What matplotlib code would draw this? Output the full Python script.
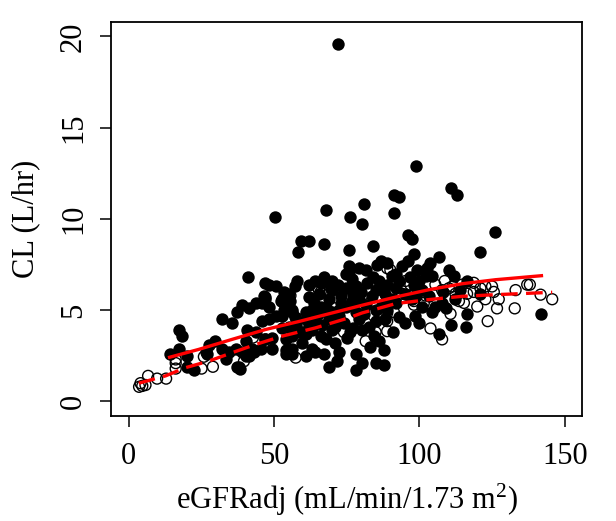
import matplotlib
matplotlib.use("Agg")
from matplotlib import pyplot as plt

# filled points (one group)
x_filled = [71.9, 98.8, 110.7, 113.0, 91.2, 92.9, 80.9, 68.0, 50.2, 76.0,
            80.1, 91.2, 125.9, 96.1, 97.5, 59.1, 61.9, 67.1, 58.2, 75.9,
            84.0, 98.3, 86.6, 88.9, 85.4, 75.7, 75.7, 79.1, 81.5, 67.1,
            48.2, 50.5, 91.8, 90.6, 96.9, 98.1, 76.9, 78.0, 75.7, 69.4,
            46.8, 52.8, 55.6, 53.3, 56.2, 48.2, 61.9, 63.7, 66.0, 63.1,
            68.2, 72.3, 74.6, 76.9, 79.1, 81.5, 84.9, 83.7, 87.2, 88.3,
            90.6, 91.8, 95.2, 97.5, 98.7, 45.9, 48.2, 50.5, 55.1, 57.4,
            52.8, 60.8, 64.2, 66.5, 63.1, 59.6, 68.8, 72.3, 71.1, 79.1,
            80.3, 82.6, 84.3, 88.3, 53.9, 56.2, 60.8, 67.1, 72.3, 68.8,
            71.7, 78.0, 78.0, 80.3, 84.9, 87.7, 87.7, 59.6, 63.1, 67.7,
            71.1, 45.3, 17.2, 18.1, 14.1, 17.2, 20.1, 20.1, 22.4, 26.9,
            32.1, 35.5, 37.3, 39.0, 41.3, 41.1, 29.8, 32.1, 34.4, 33.3,
            37.3, 38.4, 36.7, 39.0, 41.3, 42.4, 40.2, 40.7, 43.6, 45.9,
            46.4, 47.0, 27.5, 26.4, 121.0, 106.9, 103.8, 102.7, 102.1, 104.4,
            110.1, 100.9, 103.2, 105.5, 107.8, 100.9, 98.6, 99.8, 104.4, 116.4,
            121.0, 112.4, 116.4, 110.7, 116.2, 106.9, 142.0, 47.0, 43.6, 37.9,
            40.2, 43.0, 47.0, 49.3, 53.9, 56.2, 58.5, 60.8, 49.3, 53.9,
            56.2, 64.2, 52.8, 56.2, 60.8, 67.7, 70.0, 52.2, 53.3, 65.4,
            70.0, 74.6, 74.6, 55.1, 57.0, 58.0, 62.0, 64.0, 66.0, 70.0,
            72.0, 73.0, 77.0, 80.0, 82.0, 84.0, 86.0, 89.0, 92.0, 93.0,
            94.0, 96.0, 85.0, 87.0, 89.0, 93.0, 95.0, 91.0, 86.0, 83.0,
            76.0, 74.0, 78.0, 62.0, 57.0, 66.0, 70.0, 75.0, 100.0, 99.0,
            108.0, 109.0, 112.0, 114.0, 65.0, 69.0, 73.0, 77.0, 81.0, 85.0]
y_filled = [19.6, 12.9, 11.7, 11.3, 11.3, 11.2, 10.8, 10.5, 10.1, 10.1,
            9.7, 10.3, 9.3, 9.1, 8.9, 8.8, 8.8, 8.6, 8.2, 8.3,
            8.5, 8.1, 7.7, 7.6, 7.5, 7.4, 7.1, 7.3, 7.2, 6.8,
            6.4, 6.3, 7.0, 6.9, 6.8, 6.4, 6.7, 6.3, 6.2, 6.2,
            5.7, 5.6, 5.5, 5.0, 5.0, 5.2, 5.7, 5.4, 5.2, 5.0,
            5.0, 5.0, 5.2, 5.5, 5.6, 5.3, 6.1, 5.8, 6.2, 5.9,
            5.6, 5.4, 5.9, 5.6, 5.8, 4.4, 4.5, 4.7, 4.1, 4.2,
            4.0, 4.5, 4.4, 4.2, 3.9, 3.8, 4.5, 4.7, 4.1, 4.5,
            3.9, 4.1, 3.6, 4.5, 2.8, 2.6, 2.5, 2.6, 2.7, 1.9,
            2.2, 2.6, 1.7, 2.1, 2.1, 2.0, 2.8, 3.2, 2.9, 3.4,
            3.2, 2.9, 3.9, 3.6, 2.6, 2.9, 2.5, 1.9, 1.7, 2.6,
            4.5, 4.3, 4.9, 5.3, 5.1, 6.8, 3.3, 2.9, 2.7, 2.3,
            1.9, 1.8, 2.9, 2.7, 2.5, 2.9, 3.3, 3.9, 3.8, 5.4,
            5.8, 6.5, 3.1, 2.7, 8.2, 7.9, 7.6, 7.3, 6.9, 6.9,
            7.2, 6.1, 5.8, 5.2, 5.4, 5.2, 4.7, 4.3, 4.9, 6.6,
            5.9, 5.6, 4.8, 4.2, 4.1, 3.7, 4.8, 5.6, 5.4, 1.9,
            2.5, 2.7, 3.4, 3.5, 3.4, 3.6, 3.8, 3.7, 2.9, 2.6,
            2.9, 2.7, 4.7, 4.9, 4.9, 5.2, 4.9, 5.5, 6.0, 5.9,
            6.1, 6.2, 7.0, 5.9, 6.3, 6.6, 6.4, 6.6, 6.5, 6.6,
            6.4, 5.8, 5.9, 6.0, 6.5, 6.8, 6.6, 6.4, 6.2, 6.6,
            7.4, 7.7, 5.0, 5.3, 5.0, 4.6, 4.3, 3.8, 3.3, 3.0,
            3.8, 4.3, 4.9, 4.2, 4.6, 3.6, 3.9, 3.5, 6.6, 7.2,
            6.0, 5.1, 6.9, 6.1, 4.8, 5.6, 5.4, 4.0, 4.8, 4.4]

# open points (other group)
x_open = [4.0, 4.6, 5.7, 6.6, 9.7, 12.8, 3.5, 16.1, 16.1, 16.1,
          25.0, 28.9, 25.8, 39.6, 42.7, 47.0, 57.4, 58.5, 65.4, 66.0,
          71.1, 55.6, 74.0, 81.5, 88.9, 84.9, 95.2, 88.9, 80.3, 88.9,
          90.0, 91.2, 88.9, 81.5, 96.4, 98.1, 94.0, 96.9, 99.2, 102.1,
          110.1, 112.4, 108.7, 105.5, 98.1, 101.5, 107.8, 111.3, 114.7, 118.7,
          122.7, 125.0, 125.6, 133.1, 137.1, 138.0, 141.7, 145.7, 127.3, 122.7,
          119.9, 116.4, 115.3, 113.6, 110.7, 126.7, 132.8, 123.5, 103.8, 107.8,
          118.7, 121.0]
y_open = [1.0, 0.85, 0.9, 1.4, 1.25, 1.25, 0.8, 2.3, 2.1, 1.8,
          1.8, 1.9, 2.45, 2.2, 3.5, 3.4, 2.4, 4.5, 6.1, 6.0,
          5.7, 5.8, 3.8, 3.3, 3.85, 3.8, 6.6, 7.3, 5.8, 4.85,
          7.2, 4.9, 4.4, 4.3, 5.8, 5.3, 5.9, 6.4, 6.2, 5.8,
          6.2, 5.9, 6.6, 6.4, 5.5, 5.4, 6.1, 6.3, 6.4, 6.5,
          6.3, 6.3, 6.0, 6.1, 6.4, 6.4, 5.85, 5.6, 5.6, 5.6,
          5.2, 5.9, 5.4, 5.5, 4.8, 5.1, 5.1, 4.4, 4.0, 3.4,
          6.0, 6.2]

# smooth lines
x_smooth_filled = [14, 24, 35.5, 47, 58.5, 70, 81.5, 92.9, 103.2, 114.7, 126.2, 142]
y_smooth_filled = [2.42, 2.85, 3.40, 3.94, 4.38, 4.85, 5.32, 5.76, 6.12, 6.45, 6.67, 6.89]
x_smooth_open = [3.4, 12.6, 19.5, 27.5, 35.5, 43.6, 52.8, 64.2, 75.7, 80.3,
                 91.8, 103.2, 114.7, 126.2, 145.7]
y_smooth_open = [1.0, 1.40, 1.85, 2.21, 2.67, 3.12, 3.58, 4.03, 4.58, 4.85,
                 5.36, 5.58, 5.76, 5.85, 5.98]

plt.rcParams['font.family'] = 'Liberation Serif'
plt.rcParams['mathtext.default'] = 'regular'

fig = plt.figure(figsize=(6.16, 5.21), dpi=100)
ax = fig.add_axes([0.181, 0.2015, 0.764, 0.7565])

ax.scatter(x_filled, y_filled, s=80, c='black', linewidths=0, zorder=2)
ax.scatter(x_open, y_open, s=62, facecolors='none', edgecolors='black',
           linewidths=1.0, zorder=3)
ax.plot(x_smooth_filled, y_smooth_filled, color='red', lw=2.4, zorder=4)
ax.plot(x_smooth_open, y_smooth_open, color='red', lw=2.4,
        dashes=(5.0, 2.5), zorder=4)

ax.set_xlim(-6, 156)
ax.set_ylim(-0.8, 20.8)
ax.set_xticks([0, 50, 100, 150])
ax.set_yticks([0, 5, 10, 15, 20])
ax.set_yticklabels(['0', '5', '10', '15', '20'], rotation=90, va='center')

for sp in ax.spines.values():
    sp.set_linewidth(1.3)

ax.tick_params(axis='both', direction='out', length=8, width=1.1,
               labelsize=22)
ax.tick_params(axis='x', pad=11)
ax.tick_params(axis='y', pad=9)

ax.set_xlabel('eGFRadj (mL/min/1.73 m$^2$)', fontsize=22)
ax.set_ylabel('CL (L/hr)', fontsize=22)
ax.xaxis.set_label_coords(0.5, -0.168)
ax.yaxis.set_label_coords(-0.152, 0.5)

fig.savefig('out.png', dpi=100)
